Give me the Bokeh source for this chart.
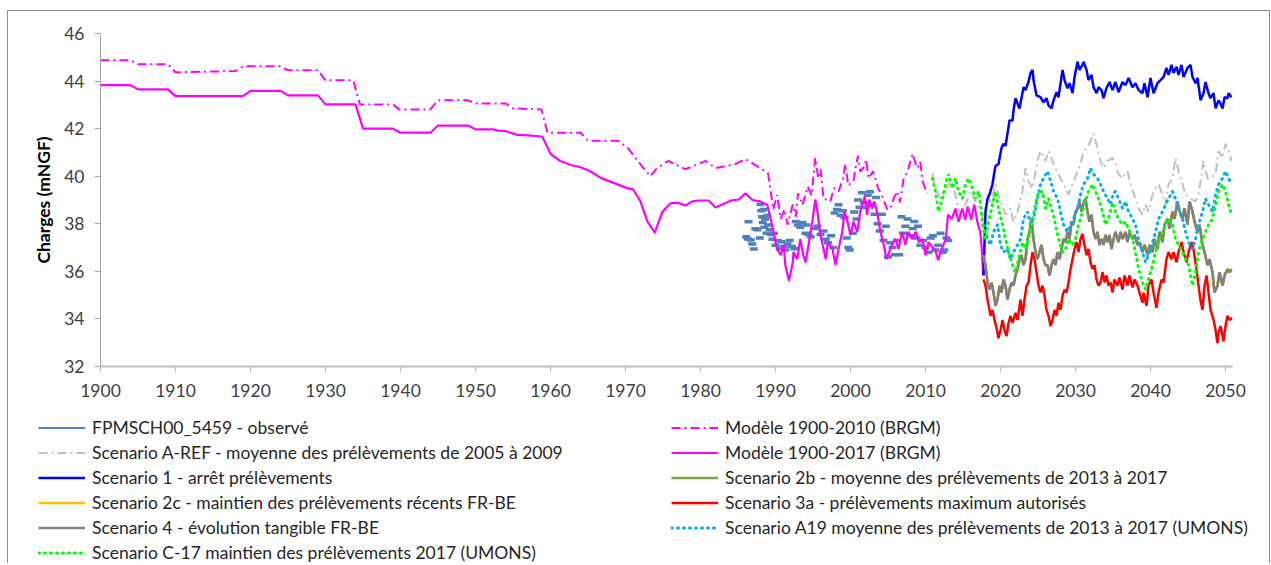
from bokeh.plotting import figure
from bokeh.layouts import column
from bokeh.models import Legend, LegendItem, FixedTicker, Range1d
from bokeh.embed import file_html
from bokeh.resources import INLINE

# ---------------- data ----------------
x_ticks = [1900, 1910, 1920, 1930, 1940, 1950, 1960, 1970, 1980, 1990, 2000, 2010, 2020, 2030, 2040, 2050]
y_ticks = [32, 34, 36, 38, 40, 42, 44, 46]

obs_year = [1986.1, 1986.3, 1986.4, 1986.7, 1986.9, 1987.1, 1987.3, 1987.6, 1987.9, 1988.0, 1988.1, 1988.2,
            1988.3, 1988.4, 1988.5, 1988.6, 1988.8, 1988.9, 1989.0, 1989.2, 1989.4, 1989.6, 1989.8, 1990.0,
            1990.3, 1990.6, 1990.8, 1991.1, 1991.3, 1991.6, 1991.9, 1992.2, 1992.5, 1992.7, 1993.0, 1993.3,
            1993.6, 1994.1, 1994.0, 1994.4, 1994.7, 1995.2, 1995.6, 1996.0, 1996.4, 1996.7, 1997.0, 1997.4,
            1997.7, 1997.9, 1998.2, 1998.4, 1998.7, 1999.0, 1999.2, 1999.5, 1999.7, 1999.9, 2000.3, 2000.5,
            2000.8, 2001.0, 2001.2, 2001.5, 2001.8, 2002.0, 2002.3, 2002.6, 2002.9, 2003.2, 2003.4, 2003.6,
            2003.9, 2004.2, 2004.4, 2004.7, 2005.0, 2005.3, 2005.6, 2005.9, 2006.2, 2006.5, 2006.8, 2007.0,
            2007.3, 2007.6, 2008.0, 2008.3, 2008.5, 2008.8, 2009.0, 2009.3, 2009.7, 2010.0, 2010.4, 2010.7,
            2011.0, 2011.3, 2011.7, 2012.0, 2012.3, 2012.5, 2012.8, 2013.0]
obs_val = [37.45, 37.36, 38.09, 37.32, 37.15, 36.94, 37.79, 37.75, 37.40, 38.81, 38.55, 38.30,
           38.05, 38.60, 37.85, 38.20, 37.60, 38.35, 37.95, 37.75, 37.55, 37.35, 37.60, 37.10,
           37.30, 36.95, 37.25, 37.05, 36.90, 37.15, 37.30, 37.05, 36.95, 38.10, 37.95, 37.85,
           38.05, 37.95, 37.60, 37.55, 37.45, 37.80, 37.90, 37.55, 37.70, 37.35, 37.20, 37.50,
           37.00, 38.45, 38.60, 38.80, 38.35, 38.55, 38.25, 37.40, 37.00, 36.90, 37.60, 38.50,
           38.20, 39.00, 38.70, 39.30, 38.90, 38.70, 39.20, 39.35, 38.80, 38.40, 39.10, 38.00,
           37.70, 38.40, 37.30, 37.90, 36.60, 37.20, 37.00, 36.70, 37.30, 36.70, 38.30, 37.60,
           37.90, 38.20, 37.50, 37.80, 38.10, 37.40, 37.90, 37.10, 37.30, 37.00, 36.80, 37.40,
           37.50, 36.90, 37.10, 37.60, 36.80, 36.90, 37.40, 37.30]

m2010_year = [1900, 1904, 1905, 1909, 1910, 1918, 1919, 1924, 1925, 1929, 1930, 1933.7, 1934.6, 1939,
              1939.8, 1944, 1945, 1949, 1950, 1954, 1955, 1958.8, 1959.6, 1964, 1965, 1969, 1970.3,
              1971.5, 1972.5, 1973.3, 1974.2, 1975.7, 1978, 1980.7, 1982, 1984.7, 1986, 1988, 1989,
              1989.7, 1990.2, 1990.7, 1991.2, 1991.6, 1992.3, 1992.7, 1993.0, 1993.6, 1994.3, 1994.8,
              1995.3, 1995.7, 1996.0, 1996.4, 1997.3, 1997.8, 1998.4, 1999.0, 1999.3, 1999.7, 2000.4,
              2000.7, 2001.0, 2001.3, 2001.7, 2002.1, 2002.4, 2003.0, 2003.7, 2004.3, 2004.9, 2005.3,
              2005.8, 2006.2, 2006.6, 2007.1, 2007.6, 2008.0, 2008.3, 2008.6, 2008.9, 2009.3, 2009.6,
              2010.2]
m2010_val = [44.88, 44.88, 44.71, 44.71, 44.37, 44.42, 44.62, 44.62, 44.45, 44.45, 44.03, 44.03, 43.02, 43.02,
             42.81, 42.81, 43.19, 43.19, 43.06, 43.06, 42.85, 42.81, 41.83, 41.83, 41.49, 41.49, 41.19,
             40.70, 40.30, 40.00, 40.34, 40.64, 40.30, 40.64, 40.34, 40.51, 40.72, 40.34, 40.13,
             38.60, 39.20, 38.21, 38.60, 37.96, 38.81, 38.30, 39.28, 38.80, 39.57, 39.20,
             40.77, 39.91, 40.30, 39.06, 38.94, 39.50, 39.36, 39.90, 40.51, 39.62, 39.79,
             40.40, 40.85, 40.20, 40.34, 40.70, 39.91, 40.21, 39.49, 39.10, 38.60, 38.64,
             39.10, 39.36, 38.90, 39.91, 40.20, 40.64, 40.94, 40.60, 40.34, 40.60, 39.79,
             39.28]

m2017_year = [1900, 1904, 1905, 1909, 1910, 1919, 1920, 1924, 1925, 1929, 1930, 1934, 1935, 1939, 1940,
              1944, 1945, 1949, 1950, 1952.3, 1953, 1954, 1955.6, 1957, 1958.9, 1960, 1961.3, 1962.7,
              1964, 1965.3, 1966.7, 1968.4, 1970.2, 1971, 1972, 1972.9, 1973.9, 1974.9, 1976, 1976.9,
              1978, 1978.9, 1979.8, 1981.1, 1982, 1984, 1985.1, 1986, 1986.9, 1988, 1988.9, 1989.5,
              1990.2, 1990.7, 1991.1, 1991.3, 1991.8, 1992.3, 1992.4, 1992.9, 1993.3, 1993.7, 1994.0,
              1994.4, 1994.9, 1995.3, 1995.6, 1995.9, 1996.7, 1997.0, 1997.6, 1998.0, 1998.4, 1998.9,
              1999.2, 1999.6, 2000.0, 2000.4, 2000.9, 2001.3, 2001.9, 2002.2, 2002.5, 2002.9, 2003.2,
              2003.6, 2004.0, 2004.4, 2004.8, 2005.3, 2005.7, 2006.0, 2006.4, 2006.9, 2007.3, 2007.7,
              2008.2, 2008.7, 2009.1, 2009.6, 2010.0, 2010.4, 2010.9, 2011.3, 2011.7, 2012.0, 2012.7,
              2013.0, 2013.5, 2014.0, 2014.4, 2014.9, 2015.3, 2015.6, 2016.1, 2016.5, 2016.9, 2017.3,
              2017.5, 2017.7]
m2017_val = [43.83, 43.83, 43.65, 43.65, 43.37, 43.37, 43.59, 43.59, 43.40, 43.40, 43.02, 43.02, 42.00, 42.00, 41.83,
             41.83, 42.13, 42.13, 41.97, 41.97, 41.92, 41.90, 41.74, 41.72, 41.67, 40.94, 40.64, 40.47,
             40.38, 40.21, 39.93, 39.72, 39.50, 39.45, 38.94, 38.10, 37.63, 38.50, 38.86, 38.89,
             38.77, 38.94, 38.98, 38.98, 38.68, 38.97, 39.02, 39.28, 39.00, 38.94, 38.80, 38.00,
             36.94, 36.68, 37.11, 36.26, 35.60, 36.38, 36.81, 36.51, 37.36, 36.68, 36.38,
             37.11, 38.09, 39.02, 38.51, 37.66, 36.51, 37.23, 36.94, 36.26, 36.94, 37.66,
             38.51, 38.09, 37.53, 38.09, 37.66, 38.51, 39.15, 38.38, 39.02, 38.64, 38.94,
             38.38, 37.66, 37.15, 36.51, 36.94, 37.23, 37.36, 36.94, 37.66, 37.11, 37.66,
             37.36, 37.66, 37.23, 37.36, 36.68, 37.23, 37.02, 36.89, 36.47, 36.81, 37.36,
             38.38, 38.21, 38.64, 38.09, 38.64, 38.17, 38.72, 38.17, 38.81, 38.09, 37.66,
             36.94, 35.83]

aref_year = [2010.93, 2011.33, 2012.0, 2012.67, 2013.33, 2014.0, 2014.67, 2015.33, 2016.0, 2016.67, 2017.33,
             2017.73, 2018.27, 2018.8, 2019.33, 2020.0, 2020.67, 2021.33, 2021.73, 2022.27, 2022.93, 2023.33,
             2023.73, 2024.27, 2024.93, 2025.33, 2026.0, 2026.4, 2026.93, 2027.33, 2028.0, 2028.67, 2029.07,
             2029.6, 2030.27, 2030.67, 2031.07, 2031.6, 2032.0, 2032.4, 2032.93, 2033.33, 2033.73, 2034.27,
             2034.93, 2035.33, 2035.73, 2036.27, 2036.93, 2037.33, 2038.0, 2038.4, 2038.93, 2039.33, 2039.73,
             2040.27, 2040.67, 2041.07, 2041.6, 2042.0, 2042.4, 2042.93, 2043.33, 2043.73, 2044.27, 2044.67,
             2045.33, 2046.0, 2046.4, 2047.07, 2047.6, 2048.0, 2048.67, 2049.07, 2049.6, 2050.0, 2050.4, 2050.8]
aref_val = [40.13, 39.49, 39.06, 39.49, 39.79, 39.23, 38.30, 38.81, 39.36, 38.94, 38.51,
            38.09, 39.23, 38.81, 39.66, 38.94, 38.38, 38.64, 38.09, 38.51, 39.36, 40.34,
            39.79, 39.49, 40.64, 41.06, 40.64, 41.06, 40.64, 40.34, 39.91, 39.49, 39.23,
            39.66, 40.21, 40.51, 41.06, 41.19, 41.49, 41.79, 41.19, 40.64, 40.34, 40.64,
            40.77, 40.51, 40.09, 39.91, 40.21, 39.66, 39.06, 38.64, 38.38, 38.81, 38.51,
            39.23, 39.49, 39.66, 39.23, 38.81, 39.66, 39.91, 40.77, 40.21, 39.66, 39.23,
            39.06, 38.94, 39.23, 40.64, 39.91, 39.91, 40.09, 41.06, 40.77, 41.36, 41.06, 40.64]

s1_year = [2017.73, 2018.0, 2018.27, 2018.53, 2018.93, 2019.2, 2019.33, 2019.73, 2020.13, 2020.4, 2020.67,
           2020.93, 2021.2, 2021.6, 2021.73, 2022.0, 2022.27, 2022.53, 2023.07, 2023.33, 2023.73, 2024.0,
           2024.27, 2024.4, 2024.8, 2025.33, 2025.73, 2026.13, 2026.4, 2026.8, 2027.07, 2027.47, 2027.73,
           2028.27, 2028.53, 2028.93, 2029.2, 2029.6, 2029.87, 2030.27, 2030.53, 2030.93, 2031.07, 2031.47,
           2031.73, 2032.13, 2032.4, 2032.8, 2033.07, 2033.47, 2033.73, 2034.13, 2034.53, 2034.93, 2035.33,
           2035.73, 2036.27, 2036.67, 2037.07, 2037.6, 2038.0, 2038.4, 2038.93, 2039.2, 2039.6, 2040.0,
           2040.4, 2040.93, 2041.33, 2041.73, 2042.13, 2042.4, 2042.8, 2043.07, 2043.47, 2043.73, 2044.13,
           2044.4, 2044.93, 2045.33, 2045.6, 2046.0, 2046.27, 2046.67, 2047.07, 2047.33, 2047.73, 2048.0,
           2048.4, 2048.67, 2049.07, 2049.33, 2049.6, 2049.87, 2050.27, 2050.4, 2050.8]
s1_val = [35.83, 38.51, 39.06, 39.23, 39.66, 40.21, 40.43, 40.51, 41.19, 41.36, 41.28,
          41.79, 42.34, 42.34, 42.77, 43.28, 43.06, 42.85, 43.74, 43.62, 43.96, 44.34,
          44.47, 44.04, 43.40, 43.32, 43.11, 43.28, 42.98, 42.85, 43.19, 43.53, 43.32,
          44.47, 44.04, 43.70, 43.91, 43.49, 44.17, 44.81, 44.47, 44.68, 44.81, 44.47,
          44.04, 44.26, 43.74, 43.49, 43.74, 43.62, 43.28, 43.70, 43.96, 43.62, 43.96,
          43.53, 43.96, 43.83, 44.13, 43.74, 43.91, 43.62, 43.49, 43.91, 43.32, 44.13,
          43.49, 43.91, 44.04, 44.17, 44.55, 44.26, 44.68, 44.34, 44.60, 44.26, 44.68,
          44.17, 44.55, 44.68, 44.17, 43.91, 44.13, 43.19, 43.49, 43.96, 43.49, 43.28,
          43.49, 42.85, 43.19, 43.06, 42.85, 43.32, 43.28, 43.49, 43.32]

s3a_year = [2017.73, 2018.0, 2018.27, 2018.53, 2018.67, 2018.93, 2019.2, 2019.47, 2019.73, 2020.0, 2020.27,
            2020.53, 2020.8, 2021.07, 2021.33, 2021.6, 2022.0, 2022.27, 2022.67, 2022.93, 2023.2, 2023.47,
            2023.73, 2024.0, 2024.27, 2024.53, 2024.8, 2025.07, 2025.33, 2025.6, 2025.87, 2026.13, 2026.4,
            2026.67, 2026.93, 2027.2, 2027.47, 2027.73, 2028.0, 2028.27, 2028.53, 2028.8, 2029.07, 2029.33,
            2029.6, 2029.87, 2030.13, 2030.4, 2030.67, 2030.93, 2031.2, 2031.47, 2031.73, 2032.0, 2032.27,
            2032.53, 2032.8, 2033.07, 2033.33, 2033.6, 2033.87, 2034.13, 2034.4, 2034.67, 2034.93, 2035.2,
            2035.6, 2035.87, 2036.27, 2036.53, 2036.93, 2037.2, 2037.6, 2037.87, 2038.27, 2038.53, 2038.93,
            2039.07, 2039.47, 2039.73, 2040.13, 2040.4, 2040.8, 2041.07, 2041.47, 2041.73, 2042.13, 2042.4,
            2042.8, 2043.07, 2043.47, 2043.73, 2044.13, 2044.4, 2044.8, 2045.07, 2045.47, 2045.73, 2046.13,
            2046.4, 2046.67, 2046.93, 2047.2, 2047.47, 2047.73, 2048.0, 2048.4, 2048.67, 2048.93, 2049.07,
            2049.33, 2049.6, 2049.73, 2050.0, 2050.27, 2050.53, 2050.93]
s3a_val = [35.66, 35.40, 34.81, 34.38, 34.13, 34.38, 33.96, 33.62, 33.19, 33.53, 33.96,
           33.53, 33.28, 33.83, 34.13, 33.83, 34.26, 33.96, 34.81, 34.13, 34.81, 35.40,
           35.53, 36.26, 36.81, 36.51, 35.96, 35.40, 35.11, 35.40, 34.98, 34.38, 34.13,
           33.70, 33.96, 34.38, 34.13, 34.68, 34.38, 34.98, 35.23, 35.11, 35.53, 36.09,
           36.51, 36.94, 37.23, 36.81, 37.36, 37.57, 37.11, 36.68, 36.94, 36.38, 36.09,
           36.26, 35.66, 35.40, 35.53, 35.96, 35.53, 35.83, 35.40, 35.53, 35.11, 35.66,
           35.40, 35.74, 35.23, 35.83, 35.40, 35.83, 35.32, 35.66, 35.40, 35.11, 34.68,
           35.11, 34.55, 35.40, 35.66, 35.11, 34.47, 35.11, 35.66, 35.53, 36.51, 36.81,
           36.51, 36.81, 36.38, 36.81, 37.23, 36.81, 36.38, 36.81, 37.23, 36.94, 36.09,
           35.40, 34.77, 34.38, 35.40, 35.83, 35.11, 34.38, 33.96, 33.53, 32.98, 33.40,
           33.70, 33.28, 33.06, 33.70, 34.13, 33.96, 34.04]

s4_year = [2017.73, 2018.0, 2018.27, 2018.53, 2018.8, 2019.07, 2019.33, 2019.6, 2019.87, 2020.13, 2020.4,
           2020.67, 2020.93, 2021.2, 2021.47, 2021.73, 2022.0, 2022.27, 2022.53, 2022.8, 2023.07, 2023.33,
           2023.6, 2023.87, 2024.13, 2024.4, 2024.67, 2024.93, 2025.2, 2025.47, 2025.73, 2026.0, 2026.27,
           2026.53, 2026.8, 2027.07, 2027.33, 2027.6, 2027.87, 2028.13, 2028.4, 2028.67, 2028.93, 2029.2,
           2029.47, 2029.73, 2030.0, 2030.27, 2030.53, 2030.8, 2031.07, 2031.33, 2031.6, 2031.87, 2032.13,
           2032.4, 2032.67, 2032.93, 2033.2, 2033.47, 2033.73, 2034.0, 2034.27, 2034.53, 2034.8, 2035.07,
           2035.33, 2035.73, 2036.0, 2036.27, 2036.67, 2036.93, 2037.2, 2037.6, 2037.87, 2038.27, 2038.53,
           2038.93, 2039.2, 2039.6, 2039.87, 2040.27, 2040.53, 2040.93, 2041.2, 2041.6, 2041.87, 2042.27,
           2042.53, 2042.93, 2043.2, 2043.6, 2043.87, 2044.27, 2044.53, 2044.93, 2045.2, 2045.6, 2045.87,
           2046.27, 2046.53, 2046.93, 2047.2, 2047.6, 2047.87, 2048.27, 2048.53, 2048.93, 2049.2, 2049.6,
           2049.87, 2050.27, 2050.53, 2050.8]
s4_val = [36.68, 36.26, 35.53, 35.23, 35.53, 35.11, 34.55, 34.81, 35.40, 35.11, 35.66,
          35.40, 34.81, 35.23, 35.53, 35.40, 35.83, 36.09, 36.51, 36.68, 36.26, 36.51,
          37.36, 37.66, 38.21, 37.36, 36.81, 36.51, 36.81, 37.11, 36.51, 36.26, 36.26,
          35.83, 36.26, 36.51, 36.26, 36.81, 36.51, 36.94, 37.36, 37.23, 37.66, 37.36,
          38.09, 37.96, 38.51, 38.64, 38.94, 38.51, 38.85, 39.06, 38.51, 38.09, 38.38,
          37.66, 37.36, 37.66, 37.11, 37.36, 37.11, 37.53, 37.23, 37.53, 36.94, 37.36,
          37.66, 37.23, 37.66, 37.36, 37.66, 37.23, 37.66, 37.36, 37.53, 37.11, 37.23,
          36.81, 37.11, 36.68, 37.11, 36.81, 37.36, 36.94, 37.66, 37.23, 37.96, 38.21,
          37.79, 38.51, 38.21, 38.94, 38.51, 38.21, 38.64, 37.96, 38.94, 38.51, 38.09,
          37.66, 37.96, 37.11, 36.81, 36.26, 36.51, 35.96, 35.11, 35.40, 35.96, 35.40,
          35.83, 36.09, 35.96, 36.09]

# Scenarios 2b and 2c lie under scenario 4 in the picture
s2b_year, s2b_val = s4_year, s4_val
s2c_year, s2c_val = s4_year, s4_val

a19_year = [2017.73, 2018.27, 2018.67, 2019.07, 2019.6, 2020.0, 2020.4, 2020.93, 2021.33, 2021.73, 2022.27,
            2022.67, 2023.07, 2023.6, 2024.0, 2024.4, 2024.93, 2025.33, 2025.73, 2026.27, 2026.67, 2027.07,
            2027.6, 2028.0, 2028.4, 2028.93, 2029.33, 2029.73, 2030.27, 2030.67, 2031.07, 2031.6, 2032.0,
            2032.4, 2032.93, 2033.33, 2033.73, 2034.27, 2034.67, 2035.07, 2035.33, 2035.73, 2036.27, 2036.67,
            2037.07, 2037.6, 2038.0, 2038.4, 2038.93, 2039.33, 2039.73, 2040.27, 2040.67, 2041.07, 2041.6,
            2042.0, 2042.4, 2042.93, 2043.33, 2043.73, 2044.27, 2044.67, 2045.07, 2045.6, 2046.0, 2046.4,
            2046.93, 2047.33, 2047.73, 2048.27, 2048.67, 2049.07, 2049.6, 2050.0, 2050.4, 2050.8]
a19_val = [37.96, 37.36, 37.11, 37.66, 37.96, 37.11, 36.81, 36.94, 36.51, 36.81, 37.11,
           37.36, 38.21, 38.51, 37.96, 38.21, 39.06, 39.66, 39.91, 40.21, 39.79, 39.36,
           39.06, 38.51, 37.96, 37.66, 37.96, 38.21, 38.64, 39.23, 39.66, 39.91, 40.34,
           40.09, 39.91, 39.66, 39.36, 39.06, 38.81, 39.30, 39.36, 39.06, 38.64, 38.94,
           38.51, 38.21, 37.96, 37.36, 36.81, 36.38, 36.68, 37.23, 37.66, 38.21, 38.51,
           38.81, 39.06, 39.36, 39.06, 38.64, 38.21, 37.66, 37.23, 36.94, 37.36, 37.96,
           38.51, 39.06, 38.81, 38.51, 39.23, 39.66, 39.91, 40.21, 39.91, 39.66]

c17_year = [2010.93, 2011.33, 2011.73, 2012.27, 2012.67, 2013.07, 2013.6, 2014.0, 2014.4, 2014.93, 2015.33,
            2015.73, 2016.27, 2016.67, 2017.07, 2017.33, 2017.6, 2018.0, 2018.4, 2018.93, 2019.33, 2019.73,
            2020.27, 2020.67, 2021.07, 2021.6, 2022.0, 2022.4, 2022.93, 2023.33, 2023.73, 2024.27, 2024.67,
            2025.07, 2025.6, 2026.0, 2026.4, 2026.93, 2027.33, 2027.73, 2028.27, 2028.67, 2029.07, 2029.6,
            2030.0, 2030.4, 2030.93, 2031.33, 2031.73, 2032.27, 2032.67, 2033.07, 2033.6, 2034.0, 2034.4,
            2034.93, 2035.33, 2035.73, 2036.27, 2036.67, 2037.07, 2037.6, 2038.0, 2038.4, 2038.93, 2039.33,
            2039.73, 2040.27, 2040.67, 2041.07, 2041.6, 2042.0, 2042.4, 2042.93, 2043.33, 2043.73, 2044.27,
            2044.67, 2045.07, 2045.6, 2046.0, 2046.4, 2046.93, 2047.33, 2047.73, 2048.27, 2048.67, 2049.07,
            2049.6, 2050.0, 2050.4, 2050.8]
c17_val = [39.91, 39.36, 38.51, 39.06, 39.66, 40.09, 39.49, 39.91, 39.36, 39.06, 39.66,
           39.91, 39.49, 39.06, 39.36, 38.81, 37.96, 37.36, 38.09, 38.81, 39.36, 38.64,
           37.96, 37.36, 36.81, 36.26, 35.96, 36.51, 37.23, 36.94, 37.36, 38.21, 38.81,
           39.36, 39.36, 38.64, 39.06, 38.51, 37.96, 37.36, 36.81, 36.94, 37.36, 37.11,
           37.36, 37.96, 38.51, 38.94, 39.36, 39.66, 39.36, 39.06, 38.51, 37.96, 38.21,
           38.90, 38.51, 38.21, 37.96, 38.09, 37.79, 37.36, 36.81, 36.09, 35.53, 35.23,
           35.66, 36.26, 36.81, 37.23, 37.66, 37.96, 38.21, 37.96, 37.36, 37.11, 36.81,
           36.51, 36.26, 35.40, 35.96, 36.81, 37.36, 37.66, 37.96, 38.21, 38.81, 39.36,
           39.66, 39.36, 38.81, 38.38]

labels = {
    "obs": "FPMSCH00_5459 - observé",
    "m2010": "Modèle 1900-2010 (BRGM)",
    "aref": "Scenario A-REF - moyenne des prélèvements de 2005 à 2009",
    "m2017": "Modèle 1900-2017 (BRGM)",
    "s1": "Scenario 1 - arrêt prélèvements",
    "s2b": "Scenario 2b - moyenne des prélèvements de 2013 à 2017",
    "s2c": "Scenario 2c - maintien des prélèvements récents FR-BE",
    "s3a": "Scenario 3a - prélèvements maximum autorisés",
    "s4": "Scenario 4 - évolution tangible FR-BE",
    "a19": "Scenario A19 moyenne des prélèvements de 2013 à 2017 (UMONS)",
    "c17": "Scenario C-17 maintien des prélèvements 2017 (UMONS)",
}
series = {
    "obs": (obs_year, obs_val), "m2010": (m2010_year, m2010_val), "aref": (aref_year, aref_val),
    "m2017": (m2017_year, m2017_val), "s1": (s1_year, s1_val), "s2b": (s2b_year, s2b_val),
    "s2c": (s2c_year, s2c_val), "s3a": (s3a_year, s3a_val), "s4": (s4_year, s4_val),
    "a19": (a19_year, a19_val), "c17": (c17_year, c17_val),
}

# ---------------- styles ----------------
FONT = "Lato"
DASHDOT = "9 4 2 4"
DOT = "1 5"
styles = {
    "obs": dict(line_color="#4F81BD", line_width=2),
    "m2010": dict(line_color="#FF00FF", line_width=2, line_dash=DASHDOT),
    "aref": dict(line_color="#BFBFBF", line_width=2, line_dash=DASHDOT),
    "m2017": dict(line_color="#FF00FF", line_width=2.2),
    "s1": dict(line_color="#0000FF", line_width=2.5),
    "s2b": dict(line_color="#77A33E", line_width=2.5),
    "s2c": dict(line_color="#FFC000", line_width=2.5),
    "s3a": dict(line_color="#FF0000", line_width=2.5),
    "s4": dict(line_color="#808080", line_width=2.5),
    "a19": dict(line_color="#00B0F0", line_width=3, line_dash=DOT, line_cap="round"),
    "c17": dict(line_color="#00FF00", line_width=3, line_dash=DOT, line_cap="round"),
}

# ---------------- main figure ----------------
p = figure(frame_width=1132, frame_height=333,
           min_border_left=92, min_border_right=37, min_border_top=22, min_border_bottom=40,
           x_range=Range1d(1900, 2050.93), y_range=Range1d(32, 46),
           output_backend="svg", toolbar_location=None)
p.xgrid.visible = False
p.ygrid.visible = False
p.outline_line_color = None

p.xaxis.ticker = FixedTicker(ticks=x_ticks)
p.yaxis.ticker = FixedTicker(ticks=y_ticks)
for ax in (p.xaxis[0], p.yaxis[0]):
    ax.minor_tick_line_color = None
    ax.major_tick_in = 0
    ax.major_tick_out = 6
    ax.major_label_text_font = FONT
    ax.major_label_text_font_size = "17.5px"
    ax.major_label_text_color = "#404040"
p.xaxis.major_label_standoff = 11
p.yaxis.major_label_standoff = 10
p.xaxis.axis_line_color = "#BFBFBF"
p.xaxis.axis_line_width = 2
p.xaxis.major_tick_line_color = "#BFBFBF"
p.yaxis.axis_line_color = "#A6A6A6"
p.yaxis.major_tick_line_color = "#A6A6A6"
p.yaxis.axis_label = "Charges (mNGF)"
p.yaxis.axis_label_text_font = FONT
p.yaxis.axis_label_text_font_size = "17.5px"
p.yaxis.axis_label_text_font_style = "bold"
p.yaxis.axis_label_text_color = "#000000"
p.yaxis.axis_label_standoff = 7

p.scatter(obs_year, obs_val, marker="dash", size=8, line_width=3.5, line_color="#4F81BD")
for key in ["m2010", "aref", "m2017", "s1", "s2b", "s2c", "s3a", "s4", "a19", "c17"]:
    xs, ys = series[key]
    p.line(xs, ys, **styles[key])

# ---------------- legend figure ----------------
lf = figure(frame_width=1261, frame_height=157, min_border=0,
            x_range=Range1d(0, 1), y_range=Range1d(0, 1),
            x_axis_location=None, y_axis_location=None,
            output_backend="svg", toolbar_location=None)
lf.xgrid.visible = False
lf.ygrid.visible = False
lf.outline_line_color = None

# legend proxies: same series, but this figure's ranges keep them out of view
proxy = {k: lf.line(series[k][0], series[k][1], **v) for k, v in styles.items()}

common = dict(orientation="vertical", glyph_width=47, glyph_height=21, label_height=21,
              label_standoff=7, spacing=4, padding=0, margin=0,
              border_line_color=None, background_fill_alpha=0,
              label_text_font=FONT, label_text_font_size="17.5px", label_text_color="#262626")

left_keys = ["obs", "aref", "s1", "s2c", "s4", "c17"]
right_keys = ["m2010", "m2017", "s2b", "s3a", "a19"]
leg_left = Legend(items=[LegendItem(label=labels[k], renderers=[proxy[k]]) for k in left_keys],
                  location=(30, 0), **common)
leg_right = Legend(items=[LegendItem(label=labels[k], renderers=[proxy[k]]) for k in right_keys],
                   location=(663, 25), **common)
lf.add_layout(leg_left)
lf.add_layout(leg_right)

layout = column(p, lf, spacing=0,
                styles={"margin-left": "7px", "margin-top": "10px",
                        "border-left": "1px solid #8c8c8c", "border-top": "1px solid #8c8c8c",
                        "border-right": "1px solid #8c8c8c"})

open("out.html", "w").write(file_html(layout, INLINE))
